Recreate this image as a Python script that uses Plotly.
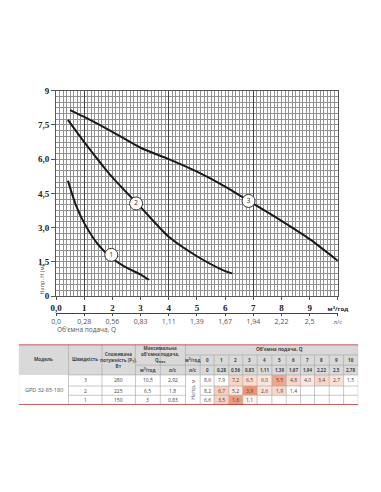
import plotly.graph_objects as go

# ---------------- data ----------------
q_speed3 = [0.5, 1, 2, 3, 4, 5, 6, 7, 8, 9, 10]
h_speed3 = [8.15, 7.85, 7.2, 6.5, 6.0, 5.45, 4.8, 4.05, 3.3, 2.5, 1.55]
q_speed2 = [0.42, 1, 2, 3, 4, 5, 6, 6.25]
h_speed2 = [7.72, 6.75, 5.2, 3.9, 2.6, 1.75, 1.1, 1.0]
q_speed1 = [0.42, 0.7, 1, 1.5, 2, 2.5, 3, 3.3]
h_speed1 = [5.06, 4.0, 3.2, 2.25, 1.65, 1.25, 0.95, 0.72]

curve_label_q = [1.96, 2.84, 6.83]
curve_label_h = [1.81, 4.06, 4.17]
curve_label_txt = ["1", "2", "3"]

x_tick_vals = [0, 1, 2, 3, 4, 5, 6, 7, 8, 9, 10]
x_tick_m3h = ["0,0", "1", "2", "3", "4", "5", "6", "7", "8", "9",
              "<span style='font-size:6px;font-family:Open Sans'>м<sup>3</sup>/год</span>"]
x_tick_ls = ["0,0", "0,28", "0,56", "0,83", "1,11", "1,39", "1,67", "1,94", "2,22", "2,5",
             "<span style='font-size:6px'>л/с</span>"]
y_tick_vals = [0, 1.5, 3, 4.5, 6, 7.5, 9]
y_tick_text = ["0", "1,5", "3,0", "4,5", "6,0", "7,5", "9"]

# table data
model_name = "GPD 32-85-180"
speeds = ["3", "2", "1"]
power_w = ["280", "225", "150"]
qmax_m3h = ["10,5", "6,5", "3"]
qmax_ls = ["2,92", "1,8", "0,83"]
q_head_m3h = ["0", "1", "2", "3", "4", "5", "6", "7", "8", "9", "10"]
q_head_ls = ["0", "0,28", "0,56", "0,83", "1,11", "1,39", "1,67", "1,94", "2,22", "2,5", "2,78"]
head_speed3 = ["8,6", "7,9", "7,2", "6,5", "6,0", "5,5", "4,8", "4,0", "3,4", "2,7", "1,5"]
head_speed2 = ["8,2", "6,7", "5,2", "3,9", "2,6", "1,9", "1,4"]
head_speed1 = ["6,6", "3,5", "1,6", "1,1"]

# ---------------- styles ----------------
cell_colors = [
    ["#ffffff", "#ffffff", "#f9d3c4", "#fbdccf", "#fce4da", "#f2a68b", "#f9d6c8",
     "#fde8df", "#fad4c5", "#fde1d6", "#ffffff"],
    ["#ffffff", "#f8cdbd", "#fde8df", "#ee9374", "#fce2d7", "#fad7c9", "#ffffff"],
    ["#ffffff", "#f9d0c0", "#ef9b7d", "#fff4ef"],
]

# page body has an 8px margin: draw into a smaller figure, shifted by 8px
OFF = 8
W, H = 381 - 2 * OFF, 492 - 2 * OFF
def fx(p): return (p - OFF) / W
def fy(p): return 1 - (p - OFF) / H

fig = go.Figure()

for q, h in [(q_speed3, h_speed3), (q_speed2, h_speed2), (q_speed1, h_speed1)]:
    fig.add_trace(go.Scatter(x=q, y=h, mode="lines",
                             line=dict(color="#1a1a1a", width=2, shape="spline", smoothing=0.7),
                             hoverinfo="skip"))

fig.add_trace(go.Scatter(x=curve_label_q, y=curve_label_h, mode="markers+text",
                         text=curve_label_txt, textposition="middle center",
                         textfont=dict(size=7, color="#333", family="Open Sans"),
                         marker=dict(size=13, color="white", line=dict(color="#222", width=0.9)),
                         hoverinfo="skip"))

# dummy traces for extra axes
fig.add_trace(go.Scatter(x=[0], y=[0], xaxis="x2", mode="markers",
                         marker=dict(opacity=0), hoverinfo="skip"))
fig.add_trace(go.Scatter(x=[0], y=[0], xaxis="x4", mode="markers",
                         marker=dict(opacity=0), hoverinfo="skip"))
fig.add_trace(go.Scatter(x=[20], y=[360], xaxis="x3", yaxis="y3", mode="markers",
                         marker=dict(opacity=0), hoverinfo="skip"))

grid_c = "#929292"
xdom = [fx(52), fx(346.7)]
tick_font = dict(family="Liberation Serif", size=9, color="#222", weight="bold")
fig.update_layout(
    width=W, height=H, margin=dict(l=0, r=0, t=0, b=0),
    paper_bgcolor="white", plot_bgcolor="white", showlegend=False,
    xaxis=dict(domain=xdom, range=[0, 10], tickvals=x_tick_vals, ticktext=x_tick_m3h,
               showgrid=True, gridcolor=grid_c, gridwidth=0.6, zeroline=False,
               minor=dict(dtick=0.125, tick0=0, showgrid=True, gridcolor=grid_c, gridwidth=0.6),
               ticks="outside", ticklen=3, tickcolor="#555",
               showline=True, linecolor="#555", linewidth=1, mirror=True,
               tickfont=tick_font, fixedrange=True),
    xaxis4=dict(overlaying="x", range=[0, 10], tickvals=[1, 4, 7], showgrid=True,
                gridcolor="#444", gridwidth=1.1, showticklabels=False, ticks="",
                zeroline=False, showline=False, domain=xdom),
    xaxis2=dict(overlaying="x", anchor="free", position=fy(314), range=[0, 10],
                tickvals=x_tick_vals, ticktext=x_tick_ls, showgrid=False, zeroline=False,
                showline=True, linecolor="#444", linewidth=1, ticks="outside", ticklen=2,
                tickcolor="#444", side="bottom",
                tickfont=dict(family="Open Sans", size=7, color="#555")),
    yaxis=dict(domain=[fy(297.3), fy(87.3)], range=[0, 9], tickvals=y_tick_vals,
               ticktext=y_tick_text, showgrid=True, gridcolor=grid_c, gridwidth=0.6,
               minor=dict(dtick=0.25, tick0=0, showgrid=True, gridcolor=grid_c, gridwidth=0.6),
               zeroline=False, ticks="outside", ticklen=4, tickcolor="#555",
               showline=True, linecolor="#555", linewidth=1, mirror=True,
               tickfont=tick_font),
    xaxis3=dict(domain=[fx(13), fx(368)], range=[13, 368], visible=False, fixedrange=True),
    yaxis3=dict(domain=[fy(408.3), fy(346.7)], range=[408.3, 346.7], visible=False,
                anchor="x3", fixedrange=True),
)
fig.data[-1].update(yaxis="y3")

ann = []
ann.append(dict(text="Напр. Н (м)", textangle=-90, xref="paper", yref="y", x=fx(37.5), y=0,
                xanchor="center", yanchor="bottom", showarrow=False,
                font=dict(family="Open Sans", size=5.5, color="#555")))
ann.append(dict(text="Об'ємна подача, Q", xref="paper", yref="paper", x=fx(51), y=fy(331),
                xanchor="left", yanchor="middle", showarrow=False,
                font=dict(family="Open Sans", size=6.5, color="#555")))

# ---------------- table ----------------
col_edges = [13, 65, 100, 135, 161, 187.3, 202.7, 217.3, 232.7, 247.3, 262.3,
             277.7, 292.7, 307.7, 322.3, 337.7, 352.7, 368]
hdr_edges = [346.7, 357.3, 367.7, 377.7]
row_edges = [377.7, 389.0, 398.5, 408.3]

def cx(i): return (col_edges[i] + col_edges[i + 1]) / 2
def ry(r): return (row_edges[r] + row_edges[r + 1]) / 2

shapes = []
def rect(x0, x1, y0, y1, fill):
    shapes.append(dict(type="rect", xref="x3", yref="y3", x0=x0, x1=x1, y0=y0, y1=y1,
                       fillcolor=fill, line=dict(width=0), layer="below"))
def line(x0, x1, y0, y1, color="#a3a3a3", width=0.6):
    shapes.append(dict(type="line", xref="x3", yref="y3", x0=x0, x1=x1, y0=y0, y1=y1,
                       line=dict(color=color, width=width)))

rect(col_edges[0], col_edges[-1], hdr_edges[0], hdr_edges[-1], "#d9d9d9")
heads = [head_speed3, head_speed2, head_speed1]
for r, vals in enumerate(heads):
    for j, v in enumerate(vals):
        rect(col_edges[6 + j], col_edges[7 + j], row_edges[r], row_edges[r + 1], cell_colors[r][j])

# header lines
for e in col_edges[1:6]:
    line(e, e, hdr_edges[0], row_edges[-1])
line(col_edges[3], col_edges[5], hdr_edges[2], hdr_edges[2])
line(col_edges[5], col_edges[-1], hdr_edges[1], hdr_edges[1])
line(col_edges[5], col_edges[-1], hdr_edges[2], hdr_edges[2])
for e in col_edges[6:-1]:
    line(e, e, hdr_edges[1], row_edges[-1])
line(col_edges[-1], col_edges[-1], hdr_edges[0], row_edges[-1])
line(col_edges[0], col_edges[0], hdr_edges[0], row_edges[-1], color="#d0d0d0")
# data row lines
line(col_edges[1], col_edges[-1], row_edges[0], row_edges[0])
for y in row_edges[1:3]:
    line(col_edges[1], col_edges[5], y, y)
    line(col_edges[6], col_edges[-1], y, y)
# red rules
line(col_edges[0], col_edges[-1], hdr_edges[0], hdr_edges[0], color="#c0272d", width=1.3)
line(col_edges[0], col_edges[-1], row_edges[-1], row_edges[-1], color="#c0272d", width=1.3)

def t(text, x, y, size=5, color="#3a3a3a", angle=0, bold=False):
    ann.append(dict(text=("<b>%s</b>" % text) if bold else text, x=x, y=y, xref="x3", yref="y3",
                    showarrow=False, textangle=angle, xanchor="center", yanchor="middle",
                    font=dict(family="Open Sans", size=size, color=color)))

hy = (hdr_edges[0] + hdr_edges[-1]) / 2
t("Модель", cx(0), hy, 4.6, "#444", bold=True)
t("Швидкість", cx(1), hy, 4.6, "#444", bold=True)
t("Споживана<br>потужність (P<sub>1</sub>),<br>Вт", cx(2), hy, 4.5, "#444", bold=True)
t("Максимальна<br>об'ємна подача,<br>Q<sub>max</sub>", (col_edges[3] + col_edges[5]) / 2,
  (hdr_edges[0] + hdr_edges[2]) / 2, 4.5, "#444", bold=True)
t("м<sup>3</sup>/год", cx(3), (hdr_edges[2] + hdr_edges[3]) / 2, 4.5, "#444", bold=True)
t("л/с", cx(4), (hdr_edges[2] + hdr_edges[3]) / 2, 4.5, "#444", bold=True)
t("Об'ємна подача, Q", (col_edges[6] + col_edges[-1]) / 2, (hdr_edges[0] + hdr_edges[1]) / 2,
  4.8, "#444", bold=True)
t("м<sup>3</sup>/год", cx(5), (hdr_edges[1] + hdr_edges[2]) / 2, 4.5, "#444", bold=True)
t("л/с", cx(5), (hdr_edges[2] + hdr_edges[3]) / 2, 4.5, "#444", bold=True)
for j in range(11):
    t(q_head_m3h[j], cx(6 + j), (hdr_edges[1] + hdr_edges[2]) / 2, 4.6, "#444", bold=True)
    t(q_head_ls[j], cx(6 + j), (hdr_edges[2] + hdr_edges[3]) / 2, 4.5, "#444", bold=True)

t(model_name, cx(0), (row_edges[0] + row_edges[-1]) / 2, 5.5, "#555")
for r in range(3):
    t(speeds[r], cx(1), ry(r), 5, "#444")
    t(power_w[r], cx(2), ry(r), 5, "#444")
    t(qmax_m3h[r], cx(3), ry(r), 5, "#444")
    t(qmax_ls[r], cx(4), ry(r), 5, "#444")
    for j, v in enumerate(heads[r]):
        t(v, cx(6 + j), ry(r), 5, "#444")
t("Напір, м", cx(5), (row_edges[0] + row_edges[-1]) / 2, 5, "#555", angle=-90)

fig.update_layout(shapes=shapes, annotations=ann)
fig.write_html("out.html")
